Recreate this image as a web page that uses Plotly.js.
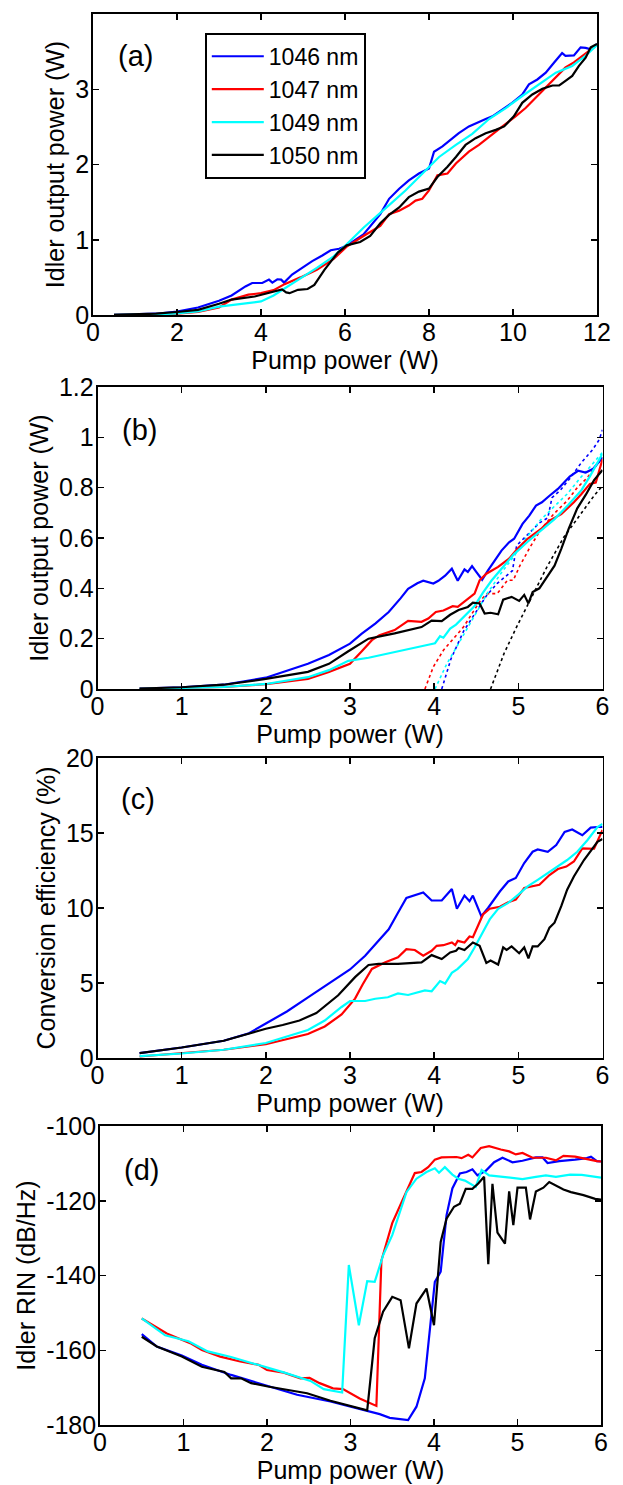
<!DOCTYPE html>
<html>
<head>
<meta charset="utf-8">
<script src="https://cdn.plot.ly/plotly-3.0.1.min.js"></script>
<style>html,body{margin:0;padding:0;background:#fff;}#chart{width:623px;height:1485px;}</style>
</head>
<body>
<div id="chart"></div>
<script>
// ---------- Series names ----------
const seriesNames = ["1046 nm", "1047 nm", "1049 nm", "1050 nm"];

// ---------- Panel (a): idler output power vs pump power (0-12 W) ----------
const a1046x = [0.5,1.0,1.5,2.0,2.5,3.0,3.3,3.63,3.79,4.03,4.19,4.27,4.39,4.48,4.55,4.74,4.98,5.22,5.46,5.66,5.86,6.04,6.44,6.84,7.05,7.29,7.52,7.76,8.0,8.12,8.32,8.52,8.71,8.95,9.15,9.35,9.51,9.75,9.98,10.22,10.38,10.58,10.78,10.98,11.17,11.25,11.45,11.61,11.73,11.85,12.0];
const a1046y = [0.002,0.007,0.017,0.045,0.1,0.19,0.26,0.38,0.425,0.425,0.47,0.43,0.475,0.47,0.43,0.537,0.626,0.716,0.79,0.86,0.88,0.92,1.07,1.34,1.544,1.678,1.79,1.88,1.946,2.17,2.24,2.33,2.416,2.506,2.56,2.604,2.64,2.73,2.82,2.93,3.065,3.13,3.22,3.356,3.48,3.445,3.45,3.557,3.55,3.53,3.6];
const a1047x = [0.5,1.0,1.5,2.0,2.5,3.0,3.3,3.7,4.0,4.3,4.56,4.94,5.33,5.73,6.04,6.44,6.84,7.05,7.29,7.52,7.68,7.84,8.0,8.2,8.44,8.64,8.95,9.19,9.43,9.75,10.06,10.3,10.54,10.78,11.02,11.25,11.45,11.73,12.0];
const a1047y = [0.0005,0.003,0.008,0.019,0.04,0.1,0.205,0.27,0.29,0.33,0.41,0.5,0.6,0.745,0.908,1.05,1.185,1.34,1.387,1.454,1.52,1.544,1.655,1.856,1.88,2.013,2.17,2.26,2.37,2.506,2.64,2.75,2.886,3.02,3.154,3.29,3.356,3.47,3.59];
const a1049x = [0.5,1.0,1.5,2.0,2.5,3.0,3.5,4.0,4.3,4.56,4.94,5.33,5.73,6.04,6.44,6.84,7.05,7.44,7.84,8.24,8.64,9.03,9.43,9.83,10.22,10.62,11.02,11.41,11.73,12.0];
const a1049y = [0.0006,0.003,0.008,0.02,0.047,0.112,0.148,0.18,0.26,0.35,0.49,0.626,0.78,0.94,1.16,1.365,1.46,1.655,1.88,2.1,2.26,2.407,2.604,2.75,2.91,3.065,3.22,3.31,3.445,3.59];
const a1050x = [0.5,1.0,1.5,2.0,2.5,3.0,3.3,3.85,4.2,4.5,4.6,4.68,4.88,5.11,5.27,5.51,5.83,6.04,6.36,6.6,6.84,7.05,7.29,7.52,7.76,8.0,8.2,8.44,8.64,8.87,9.11,9.35,9.59,9.79,10.02,10.22,10.46,10.7,10.94,11.1,11.25,11.41,11.57,11.73,11.85,12.0];
const a1050y = [0.0017,0.007,0.017,0.04,0.068,0.15,0.205,0.246,0.3,0.34,0.3,0.29,0.335,0.345,0.4,0.6,0.83,0.926,0.97,1.05,1.22,1.33,1.43,1.566,1.64,1.68,1.834,1.969,2.1,2.26,2.35,2.416,2.46,2.506,2.64,2.82,2.93,3.007,3.05,3.05,3.11,3.177,3.31,3.42,3.557,3.6];

// ---------- Panel (b): idler output power, 0-6 W (solid = measured, dotted = second set) ----------
const b1046x = [0.5,1.0,1.5,2.0,2.5,2.75,3.0,3.14,3.3,3.46,3.6,3.69,3.8,3.87,3.99,4.05,4.13,4.21,4.28,4.36,4.40,4.45,4.50,4.57,4.64,4.72,4.80,4.89,4.95,5.05,5.13,5.21,5.28,5.37,5.47,5.61,5.71,5.80,5.89,6.0];
const b1046y = [0.002,0.007,0.017,0.045,0.1,0.135,0.18,0.22,0.26,0.306,0.36,0.398,0.42,0.43,0.419,0.43,0.45,0.478,0.43,0.475,0.465,0.488,0.465,0.434,0.471,0.511,0.55,0.583,0.597,0.656,0.689,0.729,0.742,0.768,0.795,0.844,0.867,0.86,0.875,0.92];
const b1047x = [0.5,1.0,1.5,2.0,2.5,2.75,3.0,3.14,3.26,3.35,3.53,3.69,3.85,3.93,4.02,4.11,4.22,4.28,4.36,4.41,4.48,4.54,4.62,4.76,4.89,4.99,5.11,5.27,5.37,5.51,5.66,5.75,5.85,5.92,6.0];
const b1047y = [0.0005,0.003,0.008,0.019,0.04,0.068,0.1,0.15,0.194,0.214,0.234,0.271,0.267,0.28,0.306,0.312,0.329,0.326,0.346,0.359,0.379,0.432,0.458,0.485,0.518,0.557,0.597,0.636,0.669,0.695,0.742,0.775,0.815,0.82,0.913];
const b1049x = [0.5,1.0,1.5,2.0,2.5,2.75,2.98,3.22,3.53,3.77,3.93,4.01,4.07,4.11,4.19,4.26,4.36,4.48,4.58,4.68,4.80,4.95,5.11,5.27,5.43,5.59,5.75,5.85,6.0];
const b1049y = [0.0006,0.003,0.008,0.02,0.047,0.075,0.112,0.124,0.148,0.165,0.176,0.182,0.21,0.204,0.24,0.256,0.288,0.33,0.383,0.43,0.478,0.536,0.585,0.632,0.675,0.73,0.79,0.845,0.935];
const b1050x = [0.5,1.0,1.5,2.0,2.5,2.75,2.98,3.22,3.53,3.85,3.97,4.09,4.19,4.29,4.40,4.46,4.54,4.60,4.67,4.76,4.82,4.92,5.01,5.07,5.12,5.17,5.25,5.35,5.43,5.51,5.60,5.70,5.80,5.90,6.0];
const b1050y = [0.0017,0.007,0.017,0.04,0.068,0.1,0.15,0.2,0.221,0.246,0.272,0.27,0.295,0.314,0.326,0.343,0.34,0.3,0.303,0.297,0.355,0.366,0.35,0.374,0.34,0.385,0.4,0.45,0.49,0.557,0.638,0.718,0.771,0.83,0.87];
const b1046dx = [4.09,4.2,4.35,4.5,4.62,4.75,4.85,4.93,4.98,5.1,5.25,5.35,5.4,5.5,5.62,5.75,5.88,5.96,6.0];
const b1046dy = [0,0.12,0.23,0.31,0.37,0.42,0.45,0.47,0.57,0.61,0.66,0.68,0.76,0.79,0.84,0.9,0.95,0.99,1.03];
const b1047dx = [3.89,3.99,4.11,4.23,4.35,4.45,4.55,4.63,4.75,4.87,4.94,5.02,5.14,5.26,5.42,5.58,5.70,5.82,6.0];
const b1047dy = [0,0.088,0.154,0.2,0.247,0.3,0.352,0.379,0.379,0.432,0.432,0.491,0.564,0.63,0.695,0.748,0.8,0.84,0.92];
const b1049dx = [4.01,4.15,4.31,4.47,4.63,4.79,4.94,5.10,5.26,5.42,5.58,5.74,5.86,6.0];
const b1049dy = [0,0.1,0.192,0.285,0.379,0.458,0.524,0.603,0.67,0.723,0.775,0.84,0.887,0.94];
const b1050dx = [4.67,4.83,4.98,5.14,5.34,5.54,5.74,5.90,6.0];
const b1050dy = [0,0.141,0.247,0.352,0.485,0.603,0.695,0.768,0.808];

// ---------- Panel (c): conversion efficiency (%) ----------
const c1046x = [0.5,1.0,1.5,1.8,2.0,2.25,2.51,2.78,3.0,3.18,3.46,3.57,3.67,3.87,3.97,4.09,4.21,4.27,4.36,4.42,4.46,4.56,4.64,4.78,4.88,4.97,5.07,5.17,5.23,5.35,5.45,5.55,5.64,5.76,5.86,5.94,6.0];
const c1046y = [0.33,0.7,1.15,1.65,2.3,3.1,4.07,5.06,5.9,6.82,8.58,9.68,10.67,11.04,10.5,10.5,11.27,9.95,10.83,10.45,10.83,9.46,10.0,11.1,11.77,12.0,13.0,13.75,13.9,13.75,14.2,15.07,15.23,14.85,15.36,15.4,15.4];
const c1047x = [0.5,1.0,1.5,2.0,2.5,2.7,2.9,3.06,3.15,3.26,3.42,3.57,3.67,3.77,3.87,3.97,4.03,4.11,4.21,4.25,4.28,4.36,4.42,4.46,4.52,4.58,4.66,4.78,4.88,4.97,5.07,5.19,5.25,5.37,5.47,5.57,5.66,5.76,5.9,6.0];
const c1047y = [0.1,0.3,0.55,0.92,1.6,2.1,2.9,3.96,4.9,5.94,6.38,6.71,7.26,7.2,6.82,7.15,7.48,7.52,7.7,7.52,7.81,7.7,8.1,8.05,8.8,9.57,9.95,10.08,10.38,10.56,11.33,11.49,11.55,12.2,12.6,12.76,13.1,13.97,13.95,15.2];
const c1049x = [0.5,1.0,1.5,2.0,2.5,2.7,2.9,3.0,3.18,3.3,3.45,3.57,3.69,3.89,3.97,4.07,4.13,4.21,4.28,4.40,4.48,4.58,4.66,4.76,4.88,5.0,5.11,5.23,5.35,5.46,5.58,5.70,5.82,5.94,6.0];
const c1049y = [0.12,0.3,0.55,1.0,1.87,2.5,3.4,3.8,3.8,3.95,4.05,4.3,4.2,4.51,4.45,5.13,4.96,5.68,5.94,6.6,7.37,8.36,9.24,9.95,10.34,10.89,11.44,11.88,12.32,12.76,13.2,13.75,14.52,15.4,15.6];
const c1050x = [0.5,1.0,1.5,1.8,2.0,2.2,2.4,2.6,2.86,3.06,3.22,3.34,3.57,3.85,3.97,4.09,4.19,4.26,4.29,4.36,4.40,4.46,4.54,4.62,4.67,4.76,4.82,4.86,4.92,5.01,5.07,5.12,5.17,5.23,5.31,5.37,5.43,5.51,5.58,5.66,5.78,5.94,6.0];
const c1050y = [0.33,0.7,1.15,1.65,1.95,2.2,2.5,3.0,4.18,5.39,6.2,6.27,6.27,6.38,6.86,6.6,7.04,7.15,7.33,7.2,7.4,7.7,7.48,6.34,6.5,6.23,7.37,7.2,7.44,6.98,7.37,6.64,7.44,7.44,7.92,8.69,9.02,10.12,11.22,12.1,13.2,14.41,14.6];

// ---------- Panel (d): idler RIN (dB/Hz) ----------
const d1046x = [0.5,0.68,0.98,1.22,1.57,1.97,2.36,2.76,3.16,3.35,3.47,3.69,3.79,3.89,3.96,4.01,4.08,4.15,4.22,4.31,4.39,4.46,4.52,4.62,4.72,4.82,4.94,5.06,5.22,5.30,5.36,5.50,5.69,5.83,5.88,5.95,6.0];
const d1046y = [-155.7,-159,-161.4,-163.9,-166.6,-169.2,-171.9,-173.7,-175.9,-177.1,-178.1,-178.7,-175.1,-167.5,-152.4,-141.7,-139,-123.9,-116.7,-112.7,-112.3,-111.6,-113.2,-112,-109.7,-108.5,-109.7,-109.3,-108.4,-108.4,-109.9,-109.4,-109,-108.6,-108.2,-109.4,-109.5];
const d1047x = [0.5,0.8,1.08,1.22,1.44,1.68,1.9,2.0,2.2,2.4,2.51,2.63,2.79,2.91,3.11,3.31,3.37,3.5,3.62,3.77,3.85,3.93,4.01,4.09,4.27,4.33,4.41,4.46,4.56,4.66,4.80,4.90,4.98,5.06,5.18,5.34,5.46,5.55,5.69,5.81,5.95,6.0];
const d1047y = [-151.5,-155.5,-158.1,-159.9,-161.7,-163.0,-163.9,-165.3,-166.0,-167.5,-167.4,-168.8,-170.2,-170.4,-172.9,-174.9,-136,-126,-120,-112.6,-112.3,-111,-109,-108.4,-108.3,-108.6,-107.7,-108.4,-105.9,-105.4,-106.3,-106.8,-107.6,-107.2,-108.5,-108.5,-109.2,-108.0,-108.2,-108.8,-109.4,-109.5];
const d1049x = [0.5,0.78,1.06,1.29,1.57,1.89,2.21,2.52,2.68,2.9,2.98,3.10,3.2,3.29,3.39,3.5,3.67,3.79,3.91,4.01,4.06,4.13,4.22,4.29,4.37,4.50,4.57,4.66,4.80,5.06,5.22,5.34,5.46,5.63,5.77,5.95,6.0];
const d1049y = [-151.5,-156,-157.6,-160.3,-161.8,-163.8,-166,-168.2,-170.4,-171.3,-137.2,-153.3,-141.5,-141.7,-134.6,-129.2,-117.7,-114.1,-112.3,-111.3,-112.5,-111,-113,-114.1,-114.6,-116.3,-111.8,-113.2,-113.6,-114.2,-113.6,-113.2,-113.6,-113,-113.1,-113.7,-113.8];
const d1050x = [0.5,0.68,0.98,1.22,1.49,1.57,1.69,1.81,2.01,2.21,2.48,2.76,3.2,3.29,3.39,3.5,3.6,3.7,3.79,3.91,4.0,4.08,4.15,4.24,4.31,4.38,4.46,4.53,4.60,4.65,4.70,4.76,4.85,4.90,4.95,5.0,5.1,5.15,5.22,5.31,5.38,5.55,5.64,5.79,5.93,6.0];
const d1050y = [-156.4,-159,-161.7,-164.4,-165.8,-167.5,-167.5,-168.8,-169.7,-170.4,-171.5,-173.5,-176.1,-156.8,-149.7,-145.7,-146.6,-159.5,-147.5,-143.5,-153.3,-131,-124.8,-121.6,-120.8,-116.8,-116.8,-115.4,-113.6,-137,-115.5,-128.5,-131.5,-117.5,-126.5,-116.5,-116.5,-125,-117.5,-116.5,-115,-117,-117.7,-118.5,-119.5,-119.7];

// ---------- Axis ticks ----------
const aXTicks = [0,2,4,6,8,10,12];
const aYTicks = [0,1,2,3,4];
const bcdXTicks = [0,1,2,3,4,5,6];
const bYTicks = [0,0.2,0.4,0.6,0.8,1,1.2];
const cYTicks = [0,5,10,15,20];
const dYTicks = [-180,-160,-140,-120,-100];
const dYTickText = ["-180","-160","-140","-120","-100"];
const panelLabels = ["(a)","(b)","(c)","(d)"];

const colors = ["#0000ff","#ff0000","#00ffff","#000000"];
const FONT = "Liberation Sans, Arial, Helvetica, sans-serif";
const FS = 25;

function line(x, y, i, xa, ya, opts) {
  opts = opts || {};
  return {
    x: x, y: y, type: "scatter", mode: "lines",
    name: seriesNames[i], xaxis: xa, yaxis: ya,
    line: {color: colors[i], width: opts.width || 2.2, dash: opts.dash || "solid"},
    showlegend: !!opts.legend, hoverinfo: "skip"
  };
}

const traces = [
  line(a1046x, a1046y, 0, "x", "y", {legend: true}),
  line(a1047x, a1047y, 1, "x", "y", {legend: true}),
  line(a1049x, a1049y, 2, "x", "y", {legend: true}),
  line(a1050x, a1050y, 3, "x", "y", {legend: true}),
  line(b1046dx, b1046dy, 0, "x2", "y2", {dash: "dot", width: 1.6}),
  line(b1047dx, b1047dy, 1, "x2", "y2", {dash: "dot", width: 1.6}),
  line(b1049dx, b1049dy, 2, "x2", "y2", {dash: "dot", width: 1.6}),
  line(b1050dx, b1050dy, 3, "x2", "y2", {dash: "dot", width: 1.6}),
  line(b1046x, b1046y, 0, "x2", "y2"),
  line(b1047x, b1047y, 1, "x2", "y2"),
  line(b1049x, b1049y, 2, "x2", "y2"),
  line(b1050x, b1050y, 3, "x2", "y2"),
  line(c1046x, c1046y, 0, "x3", "y3"),
  line(c1047x, c1047y, 1, "x3", "y3"),
  line(c1049x, c1049y, 2, "x3", "y3"),
  line(c1050x, c1050y, 3, "x3", "y3"),
  line(d1046x, d1046y, 0, "x4", "y4"),
  line(d1047x, d1047y, 1, "x4", "y4"),
  line(d1049x, d1049y, 2, "x4", "y4"),
  line(d1050x, d1050y, 3, "x4", "y4")
];

const W = 623, H = 1485;
function px(v) { return v / W; }
function py(v) { return 1 - v / H; }

function xAxis(dom, anchor, range, ticks) {
  return {
    domain: [px(dom[0]), px(dom[1])], anchor: anchor, range: range,
    tickvals: ticks, ticks: "inside", ticklen: 6, tickwidth: 1.5, tickcolor: "#000",
    showline: true, linecolor: "#000", linewidth: 1.8, mirror: "ticks",
    showgrid: false, zeroline: false, ticklabelstandoff: -6,
    tickfont: {family: FONT, size: FS, color: "#000"},
    title: {text: "Pump power (W)", font: {family: FONT, size: FS, color: "#000"}, standoff: 0},
    automargin: false, fixedrange: true
  };
}
function yAxis(dom, anchor, range, ticks, title, ticktext) {
  const ax = {
    domain: [py(dom[1]), py(dom[0])], anchor: anchor, range: range,
    tickvals: ticks, ticks: "inside", ticklen: 6, tickwidth: 1.5, tickcolor: "#000",
    showline: true, linecolor: "#000", linewidth: 1.8, mirror: "ticks",
    showgrid: false, zeroline: false, ticklabelstandoff: -3,
    tickfont: {family: FONT, size: FS, color: "#000"},
    title: {text: title, font: {family: FONT, size: FS, color: "#000"}, standoff: 3},
    automargin: false, fixedrange: true
  };
  if (ticktext) ax.ticktext = ticktext;
  return ax;
}

const layout = {
  width: W, height: H,
  margin: {l: 0, r: 0, t: 0, b: 0},
  paper_bgcolor: "#fff", plot_bgcolor: "#fff",
  font: {family: FONT, size: FS, color: "#000"},
  xaxis: xAxis([93, 597], "y", [0, 12], aXTicks),
  yaxis: yAxis([14, 315], "x", [0, 4], aYTicks, "Idler output power (W)"),
  xaxis2: xAxis([97.5, 602.5], "y2", [0, 6], bcdXTicks),
  yaxis2: yAxis([387, 689], "x2", [0, 1.2], bYTicks, "Idler output power (W)"),
  xaxis3: xAxis([97.5, 602.5], "y3", [0, 6], bcdXTicks),
  yaxis3: yAxis([758, 1058], "x3", [0, 20], cYTicks, "Conversion efficiency (%)"),
  xaxis4: xAxis([100, 601], "y4", [0, 6], bcdXTicks),
  yaxis4: yAxis([1126, 1425], "x4", [-180, -100], dYTicks, "Idler RIN (dB/Hz)", dYTickText),
  showlegend: true,
  legend: {
    x: px(205), y: py(33), xanchor: "left", yanchor: "top",
    bgcolor: "#fff", bordercolor: "#000", borderwidth: 1.8,
    font: {family: FONT, size: 23, color: "#000"},
    itemwidth: 52, tracegroupgap: 0
  },
  annotations: [
    {xref: "paper", yref: "paper", x: px(135), y: py(56), text: panelLabels[0]},
    {xref: "paper", yref: "paper", x: px(139), y: py(430), text: panelLabels[1]},
    {xref: "paper", yref: "paper", x: px(138), y: py(799), text: panelLabels[2]},
    {xref: "paper", yref: "paper", x: px(141), y: py(1170), text: panelLabels[3]}
  ].map(a => Object.assign(a, {showarrow: false, xanchor: "center", yanchor: "middle",
    font: {family: FONT, size: 29, color: "#000"}}))
};

Plotly.newPlot("chart", traces, layout, {staticPlot: true, displayModeBar: false});
</script>
</body>
</html>
